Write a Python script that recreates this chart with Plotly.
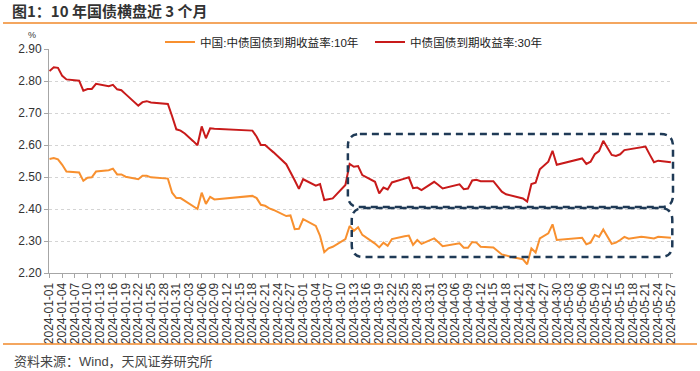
import plotly.graph_objects as go
import pandas as pd

# ---------------- data ----------------
dates = ["2024-01-01","2024-01-02","2024-01-03","2024-01-04","2024-01-05","2024-01-08","2024-01-09","2024-01-10",
         "2024-01-11","2024-01-12","2024-01-15","2024-01-16","2024-01-17","2024-01-18","2024-01-19","2024-01-22",
         "2024-01-23","2024-01-24","2024-01-25","2024-01-26","2024-01-29","2024-01-30","2024-01-31","2024-02-01",
         "2024-02-02","2024-02-04","2024-02-05","2024-02-06","2024-02-07","2024-02-08","2024-02-09","2024-02-18",
         "2024-02-19","2024-02-20","2024-02-21","2024-02-22","2024-02-23","2024-02-26","2024-02-27","2024-02-28",
         "2024-02-29","2024-03-01","2024-03-04","2024-03-05","2024-03-06","2024-03-07","2024-03-08","2024-03-11",
         "2024-03-12","2024-03-13","2024-03-14","2024-03-15","2024-03-18","2024-03-19","2024-03-20","2024-03-21",
         "2024-03-22","2024-03-25","2024-03-26","2024-03-27","2024-03-28","2024-03-29","2024-04-01","2024-04-02",
         "2024-04-03","2024-04-07","2024-04-08","2024-04-09","2024-04-10","2024-04-11","2024-04-12","2024-04-15",
         "2024-04-16","2024-04-17","2024-04-18","2024-04-19","2024-04-22","2024-04-23","2024-04-24","2024-04-25",
         "2024-04-26","2024-04-28","2024-04-29","2024-04-30","2024-05-06","2024-05-07","2024-05-08","2024-05-09",
         "2024-05-10","2024-05-11","2024-05-13","2024-05-14","2024-05-15","2024-05-16","2024-05-17","2024-05-20",
         "2024-05-21","2024-05-22","2024-05-23","2024-05-24","2024-05-27"]

yield_10y = [2.556,2.559,2.555,2.538,2.517,2.514,2.488,2.498,
             2.499,2.517,2.521,2.526,2.508,2.508,2.501,2.493,
             2.504,2.504,2.499,2.498,2.495,2.451,2.434,2.434,
             2.425,2.408,2.400,2.451,2.416,2.438,2.430,2.441,
             2.434,2.413,2.410,2.402,2.397,2.378,2.380,2.337,
             2.338,2.368,2.347,2.316,2.265,2.277,2.282,2.306,
             2.347,2.332,2.343,2.319,2.292,2.280,2.295,2.285,
             2.306,2.315,2.317,2.288,2.303,2.291,2.308,2.296,
             2.284,2.293,2.279,2.279,2.297,2.295,2.282,2.280,
             2.270,2.258,2.255,2.251,2.243,2.227,2.277,2.264,
             2.308,2.324,2.352,2.303,2.310,2.290,2.295,2.319,
             2.313,2.336,2.291,2.295,2.303,2.313,2.307,2.313,
             2.312,2.310,2.308,2.313,2.310]

yield_30y = [2.831,2.843,2.841,2.816,2.805,2.801,2.770,2.775,
             2.775,2.791,2.784,2.788,2.774,2.771,2.759,2.723,
             2.734,2.737,2.733,2.732,2.728,2.690,2.649,2.645,
             2.636,2.612,2.599,2.658,2.621,2.652,2.651,2.645,
             2.626,2.600,2.600,2.588,2.577,2.540,2.517,2.490,
             2.463,2.493,2.473,2.478,2.428,2.430,2.433,2.475,
             2.541,2.532,2.534,2.506,2.485,2.449,2.467,2.461,
             2.483,2.495,2.499,2.465,2.467,2.459,2.485,2.475,
             2.464,2.477,2.462,2.464,2.489,2.491,2.487,2.487,
             2.470,2.454,2.446,2.443,2.433,2.423,2.478,2.482,
             2.524,2.548,2.582,2.538,2.558,2.541,2.548,2.571,
             2.581,2.613,2.569,2.566,2.571,2.584,2.586,2.594,
             2.595,2.570,2.546,2.551,2.546]

series_names = ["中国:中债国债到期收益率:10年", "中债国债到期收益率:30年"]
y_ticks = [2.20, 2.30, 2.40, 2.50, 2.60, 2.70, 2.80, 2.90]
title_text = "图1：10 年国债横盘近 3 个月"
source_text = "资料来源：Wind，天风证券研究所"

# highlight boxes (date span, yield span)
box_upper = ("2024-03-11 14:00", "2024-05-27 12:00", 2.406, 2.634)
box_lower = ("2024-03-12 12:00", "2024-05-27 08:00", 2.250, 2.403)

assert len(dates) == len(yield_10y) == len(yield_30y)

# ---------------- styling / geometry ----------------
W, H = 700, 371
ML, MR, MT, MB = 49, 27, 49, 98
PW, PH = W - ML - MR, H - MT - MB
X_RANGE = ["2023-12-31 21:00", "2024-05-27 12:00"]
Y_RANGE = [2.2, 2.9]
ORANGE = "#F8902F"
RED = "#C81A1A"
NAVY = "#1F3A56"
FONT = "Arial, 'Liberation Sans', 'Noto Sans CJK SC', sans-serif"

t0, t1 = pd.Timestamp(X_RANGE[0]), pd.Timestamp(X_RANGE[1])


def xp(d):
    return (pd.Timestamp(d) - t0) / (t1 - t0)


def yp(v):
    return (v - Y_RANGE[0]) / (Y_RANGE[1] - Y_RANGE[0])


def px_x(px):
    return (px - ML) / PW


def px_y(py):
    return (H - MB - py) / PH


def rounded_path(x0, x1, y0, y1, r=12):
    rx, ry = r / PW, r / PH
    return (f"M{x0+rx},{y1} L{x1-rx},{y1} Q{x1},{y1} {x1},{y1-ry} "
            f"L{x1},{y0+ry} Q{x1},{y0} {x1-rx},{y0} L{x0+rx},{y0} "
            f"Q{x0},{y0} {x0},{y0+ry} L{x0},{y1-ry} Q{x0},{y1} {x0+rx},{y1} Z")


fig = go.Figure()
fig.add_trace(go.Scatter(x=dates, y=yield_10y, name=series_names[0], mode="lines",
                         line=dict(color=ORANGE, width=2)))
fig.add_trace(go.Scatter(x=dates, y=yield_30y, name=series_names[1], mode="lines",
                         line=dict(color=RED, width=2)))

shapes = []
for b in (box_upper, box_lower):
    shapes.append(dict(type="path", xref="paper", yref="paper",
                       path=rounded_path(xp(b[0]), xp(b[1]), yp(b[2]), yp(b[3])),
                       line=dict(color=NAVY, width=2.5, dash="7px,5px"),
                       fillcolor="rgba(0,0,0,0)"))
# orange separator lines (header / footer)
for py in (23, 344):
    shapes.append(dict(type="line", xref="paper", yref="paper",
                       x0=px_x(3), x1=px_x(697), y0=px_y(py), y1=px_y(py),
                       line=dict(color="#F0882A", width=1.5)))

fig.update_layout(
    width=W, height=H,
    margin=dict(l=ML, r=MR, t=MT, b=MB, autoexpand=False),
    paper_bgcolor="white", plot_bgcolor="white",
    font=dict(family=FONT, size=12, color="#333333"),
    title=dict(text=f"<b>{title_text}</b>", xref="container", yref="container",
               x=12 / W, y=1 - 12 / H, xanchor="left", yanchor="middle",
               font=dict(family="'Noto Sans CJK SC', sans-serif", size=15, color="#333333")),
    showlegend=True,
    legend=dict(orientation="h", x=px_x(160), y=px_y(42), xanchor="left", yanchor="middle",
                font=dict(size=11.6, color="#222222"), itemwidth=30,
                entrywidth=165, entrywidthmode="pixels", bgcolor="rgba(0,0,0,0)"),
    xaxis=dict(type="date", range=X_RANGE, tick0="2024-01-01", dtick=3 * 86400000,
               tickformat="%Y-%m-%d", tickangle=-90, ticks="outside", ticklen=4,
               tickcolor="#A6A6A6", showline=True, linecolor="#A6A6A6", linewidth=1,
               showgrid=False, zeroline=False, tickfont=dict(size=12, color="#333333"),
               automargin=False),
    yaxis=dict(range=Y_RANGE, tickvals=y_ticks, ticktext=[f"{v:.2f}" for v in y_ticks],
               ticks="outside", ticklen=4, tickcolor="#A6A6A6", showline=True,
               linecolor="#A6A6A6", linewidth=1, showgrid=True, gridcolor="#D4D4D4",
               griddash="3px,3px", gridwidth=1, zeroline=False,
               tickfont=dict(size=12, color="#333333"), automargin=False),
    shapes=shapes,
    annotations=[
        dict(text="%", xref="paper", yref="paper", x=px_x(32), y=px_y(35),
             xanchor="center", yanchor="middle", showarrow=False,
             font=dict(size=9, color="#333333")),
        dict(text=source_text, xref="paper", yref="paper", x=px_x(12), y=px_y(361),
             xanchor="left", yanchor="middle", showarrow=False,
             font=dict(size=13, color="#444444")),
    ],
)

fig.write_html("out.html", config={"displayModeBar": False},
               post_script="document.body.style.margin='0';document.body.style.padding='0';")
